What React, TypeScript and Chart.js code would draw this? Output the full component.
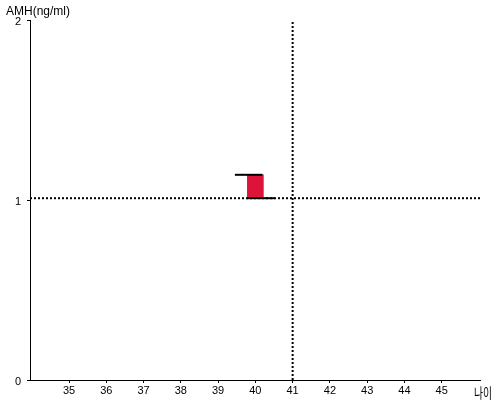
import React, { useEffect, useRef } from "react";
import { Chart, registerables } from "chart.js";

Chart.register(...registerables);

const xTickValues = [35, 36, 37, 38, 39, 40, 41, 42, 43, 44, 45];
const yTickValues = [0, 1, 2];
const boxX = 40;
const boxLow = 1.01;
const boxHigh = 1.14;
const topLineX = [39.45, 40.19];
const bottomLineX = [39.77, 40.53];
const refX = 41;
const refY = 1.01;
const yTitle = "AMH(ng/ml)";
const xTitle = "나이";

const textPlugin = {
  id: "axisTitles",
  afterDraw(chart: any) {
    const ctx = chart.ctx;
    ctx.save();
    ctx.fillStyle = "#000";
    ctx.font = "12px Arial, 'Liberation Sans', sans-serif";
    ctx.textAlign = "left";
    ctx.textBaseline = "alphabetic";
    ctx.fillText(yTitle, 6, 15);
    ctx.font = "14px 'Noto Sans CJK KR', sans-serif";
    const w = ctx.measureText(xTitle).width;
    const sx = 18 / w;
    ctx.translate(474, 398);
    ctx.scale(sx, 1);
    ctx.fillText(xTitle, 0, 0);
    ctx.restore();
  },
};

export default function App() {
  const ref = useRef<HTMLCanvasElement | null>(null);
  useEffect(() => {
    if (!ref.current) return;
    const font = { family: "Arial, 'Liberation Sans', sans-serif", size: 11 };
    const chart = new Chart(ref.current, {
      type: "line",
      data: {
        datasets: [
          {
            type: "line",
            data: [
              { x: topLineX[0], y: boxHigh },
              { x: topLineX[1], y: boxHigh },
            ],
            borderColor: "#000",
            borderWidth: 2,
            pointRadius: 0,
            order: 0,
          } as any,
          {
            type: "line",
            data: [
              { x: bottomLineX[0], y: boxLow },
              { x: bottomLineX[1], y: boxLow },
            ],
            borderColor: "#000",
            borderWidth: 2,
            pointRadius: 0,
            order: 1,
          } as any,
          {
            type: "bar",
            data: [{ x: boxX, y: [boxLow, boxHigh] }],
            backgroundColor: "#DC143C",
            borderWidth: 0,
            barThickness: 16,
            order: 2,
          } as any,
          {
            type: "line",
            data: [
              { x: refX, y: 0 },
              { x: refX, y: 2 },
            ],
            borderColor: "#000",
            borderWidth: 2,
            borderDash: [2, 2],
            pointRadius: 0,
            order: 3,
          } as any,
          {
            type: "line",
            data: [
              { x: 33.95, y: refY },
              { x: 46.03, y: refY },
            ],
            borderColor: "#000",
            borderWidth: 2,
            borderDash: [2, 2],
            pointRadius: 0,
            order: 4,
          } as any,
        ],
      },
      options: {
        animation: false,
        responsive: false,
        events: [],
        layout: { padding: { top: 20, right: 20, left: 0, bottom: 0 } },
        plugins: { legend: { display: false }, tooltip: { enabled: false } },
        scales: {
          x: {
            type: "linear",
            min: 33.95,
            max: 46.03,
            offset: false,
            afterBuildTicks: (s: any) => {
              s.ticks = xTickValues.map((v) => ({ value: v }));
            },
            afterFit: (s: any) => {
              s.height = 20;
            },
            ticks: { color: "#000", font, padding: 1, maxRotation: 0, autoSkip: false },
            grid: { offset: false, drawOnChartArea: false, drawTicks: true, tickLength: 3, color: "#000" },
            border: { display: true, color: "#000", width: 1 },
          },
          y: {
            type: "linear",
            min: 0,
            max: 2,
            afterBuildTicks: (s: any) => {
              s.ticks = yTickValues.map((v) => ({ value: v }));
            },
            afterFit: (s: any) => {
              s.width = 30;
            },
            ticks: { color: "#000", font, padding: 6, labelOffset: 2 },
            grid: { offset: false, drawOnChartArea: false, drawTicks: true, tickLength: 3, color: "#000" },
            border: { display: true, color: "#000", width: 1 },
          },
        },
      } as any,
      plugins: [textPlugin],
    });
    return () => chart.destroy();
  }, []);
  return (
    <div style={{ position: "fixed", left: 0, top: 0, width: 500, height: 400, background: "#fff" }}>
      <canvas ref={ref} width={500} height={400} style={{ width: 500, height: 400 }} />
    </div>
  );
}
